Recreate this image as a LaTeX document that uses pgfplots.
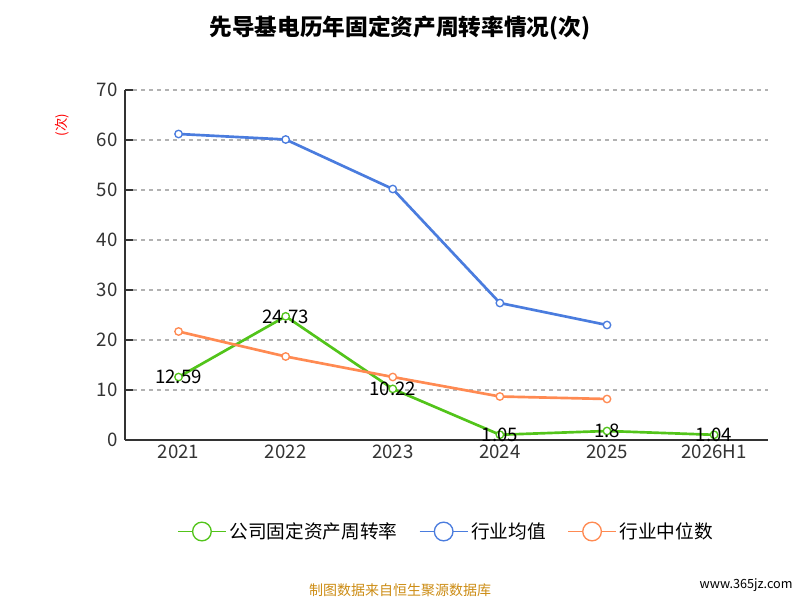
\documentclass[border=0pt]{standalone}
\usepackage{pgfplots}
\pgfplotsset{compat=1.18}
\usepackage{fontspec}
\setmainfont{Noto Sans CJK SC}
\definecolor{cg}{RGB}{82,196,26}
\definecolor{cb}{RGB}{74,124,222}
\definecolor{co}{RGB}{255,138,82}
\begin{document}
\begin{tikzpicture}
\path[use as bounding box] (0,0) rectangle (600pt,450pt);
\node at (300pt,429pt) {\fontsize{17}{20}\selectfont\bfseries 先导基电历年固定资产周转率情况(次)};
\node[rotate=90,text=red] at (46.5pt,356pt) {\fontsize{10}{11}\selectfont (次)};
\node[text={rgb,255:red,204;green,140;blue,20}] at (300pt,7.5pt) {\fontsize{10.5}{12}\selectfont 制图数据来自恒生聚源数据库};
\node[anchor=east] at (598pt,11pt) {\fontsize{9.5}{11}\selectfont www.365jz.com};
\begin{axis}[at={(93.75pt,120pt)},anchor=south west,scale only axis,
 width=482pt,height=262.5pt,
 xmin=-0.5,xmax=5.5,ymin=0,ymax=70,ytick={0,10,...,70},
 xtick={0,...,5},xticklabels={2021,2022,2023,2024,2025,2026H1},
 extra x ticks={-0.5,0.5,...,5.5},extra x tick labels={},
 extra x tick style={major tick length=6pt,tick style={black}},
 major x tick style={draw=none},
 axis x line*=bottom,axis y line*=left,
 axis line style={-,black!80,thick},
 ymajorgrids,grid style={dashed,gray!60,thick},
 /pgf/number format/assume math mode=true,
 ticklabel style={font=\fontsize{14}{16}\selectfont,text=black!80},
 ytick style={black!80,thick}, major tick length=6pt,
 y tick label style={xshift=-2pt},
 legend style={at={(0.5,-0.22)},anchor=north,draw=none,legend columns=3,
   font=\fontsize{14}{16}\selectfont,/tikz/every even column/.append style={column sep=14pt}},
 legend image code/.code={\draw[#1,line width=1.3pt] (0pt,0pt)--(36pt,0pt); \draw[#1,fill=white,line width=1pt] (18pt,0pt) circle (7pt);},
 every axis plot/.append style={line width=2pt,mark=*,mark size=2.8pt,mark options={fill=white,line width=1pt}},
]
\addplot[cg,nodes near coords,point meta=explicit symbolic,
 every node near coord/.append style={anchor=center,text=black,font=\fontsize{14}{16}\selectfont}]
 coordinates {(0,12.59)[12.59] (1,24.73)[24.73] (2,10.22)[10.22] (3,1.05)[1.05] (4,1.8)[1.8] (5,1.04)[1.04]};
\addlegendentry{公司固定资产周转率}
\addplot[cb] coordinates {(0,61.2) (1,60.1) (2,50.2) (3,27.4) (4,23.0)};
\addlegendentry{行业均值}
\addplot[co] coordinates {(0,21.7) (1,16.7) (2,12.6) (3,8.7) (4,8.2)};
\addlegendentry{行业中位数}
\end{axis}
\end{tikzpicture}
\end{document}
